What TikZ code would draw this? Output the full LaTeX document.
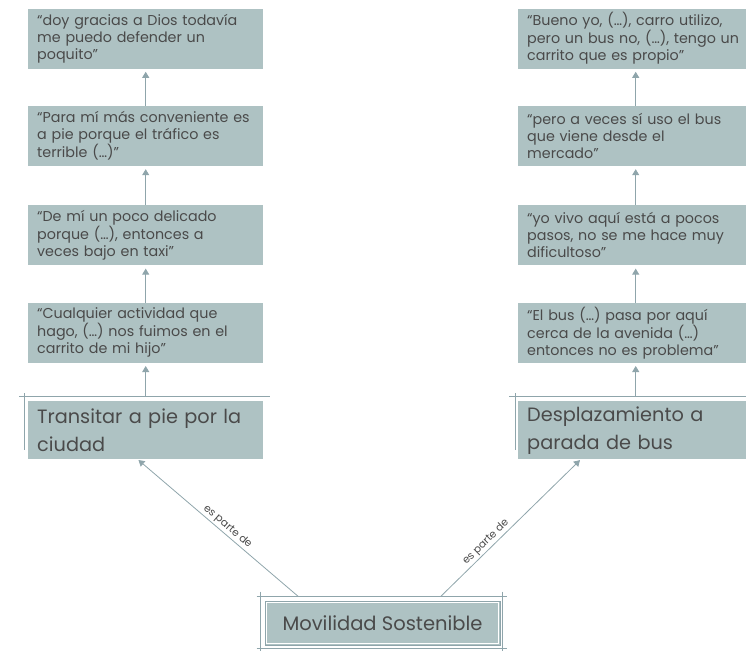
\documentclass[tikz,border=0pt]{standalone}
\usepackage{fontspec}
\setmainfont{Poppins}
\usetikzlibrary{arrows.meta,positioning,calc}
\definecolor{boxfill}{HTML}{AEC2C3}
\definecolor{linegray}{HTML}{8FA5AB}
\definecolor{textgray}{HTML}{4A4A4A}
\tikzset{
quotebox/.style={fill=boxfill, text=textgray, align=left, inner xsep=9pt, inner ysep=2pt,
    text width=217pt, minimum width=235pt, minimum height=60pt,
    font=\fontsize{14.3}{17}\selectfont},
topicbox/.style={quotebox, minimum height=58pt, font=\fontsize{19.3}{28}\selectfont},
conn/.style={draw=linegray, line width=0.8pt, shorten >=3pt,
    -{Triangle[width=7pt,length=6pt]}},
frameline/.style={draw=linegray, line width=0.7pt},
relname/.style={font=\fontsize{10.5}{11}\selectfont, text=textgray, inner sep=1.5pt}}

\begin{document}
\begin{tikzpicture}[x=1pt,y=-1pt]

                \useasboundingbox (0,0) rectangle (746,650);

                % left column
                \node[topicbox, anchor=north west] (tr) at (28,401) {Transitar a pie por la\\ciudad};
                \node[quotebox, above=38pt of tr] (t4) {“Cualquier actividad que\\hago, (…) nos fuimos en el\\carrito de mi hijo”};
                \node[quotebox, above=37pt of t4] (t3) {“De mí un poco delicado\\porque (…), entonces a\\veces bajo en taxi”};
                \node[quotebox, above=39pt of t3] (t2) {“Para mí más conveniente es\\a pie porque el tráfico es\\terrible (…)”};
                \node[quotebox, above=37pt of t2] (t1) {“doy gracias a Dios todavía\\me puedo defender un\\poquito”};

                % right column
                \node[topicbox, anchor=north west] (dp) at (518,401) {Desplazamiento a\\parada de bus};
                \node[quotebox, above=38pt of dp] (d4) {“El bus (…) pasa por aquí\\cerca de la avenida (…)\\entonces no es problema”};
                \node[quotebox, above=37pt of d4] (d3) {“yo vivo aquí está a pocos\\pasos, no se me hace muy\\dificultoso”};
                \node[quotebox, above=39pt of d3] (d2) {“pero a veces sí uso el bus\\que viene desde el\\mercado”};
                \node[quotebox, above=37pt of d2] (d1) {“Bueno yo, (…), carro utilizo,\\pero un bus no, (…), tengo un\\carrito que es propio”};

                % bottom
                \node[fill=boxfill, draw=linegray, line width=0.7pt, text=textgray,
                    minimum width=235pt, minimum height=44pt,
                    font=\fontsize{19.5}{22}\selectfont] (ms) at (382.5,623) {Movilidad Sostenible};
                \draw[white, line width=1pt] ([shift={(2,2)}]ms.north west) rectangle ([shift={(-2,-2)}]ms.south east);

                % frame lines
                \draw[frameline] ([shift={(-9,-5)}]tr.north west) -- ([shift={(7,-5)}]tr.north east);
                \draw[frameline] ([shift={(-4,-8)}]tr.north west) -- ([shift={(-4,-9)}]tr.south west);
                \draw[frameline] ([shift={(-9,-5)}]dp.north west) -- ([shift={(7,-5)}]dp.north east);
                \draw[frameline] ([shift={(-3,-8)}]dp.north west) -- ([shift={(-3,-9)}]dp.south west);
                \draw[frameline] ([shift={(-8,-4)}]ms.north west) -- ([shift={(7,-4)}]ms.north east);
                \draw[frameline] ([shift={(-8,3)}]ms.south west) -- ([shift={(7,3)}]ms.south east);
                \draw[frameline] ([shift={(-4,-9)}]ms.north west) -- ([shift={(-4,8)}]ms.south west);
                \draw[frameline] ([shift={(2,-9)}]ms.north east) -- ([shift={(2,8)}]ms.south east);

                % connectors
                \draw[conn] ([shift={(0,-5)}]tr.north) -- (t4.south);
                \draw[conn] (t4.north) -- (t3.south);
                \draw[conn] (t3.north) -- (t2.south);
                \draw[conn] (t2.north) -- (t1.south);
                \draw[conn] ([shift={(0,-5)}]dp.north) -- (d4.south);
                \draw[conn] (d4.north) -- (d3.south);
                \draw[conn] (d3.north) -- (d2.south);
                \draw[conn] (d2.north) -- (d1.south);

                \draw[conn, shorten >=1pt] ([shift={(-84,-4)}]ms.north) -- ([xshift=-8pt]tr.south)
                    node[relname, pos=0.47, sloped, above] {es parte de};
                \draw[conn, shorten >=1pt] ([shift={(58,-4)}]ms.north) -- ([xshift=-55pt]dp.south)
                    node[relname, pos=0.36, sloped, above] {es parte de};

            \end{tikzpicture}
\end{document}
